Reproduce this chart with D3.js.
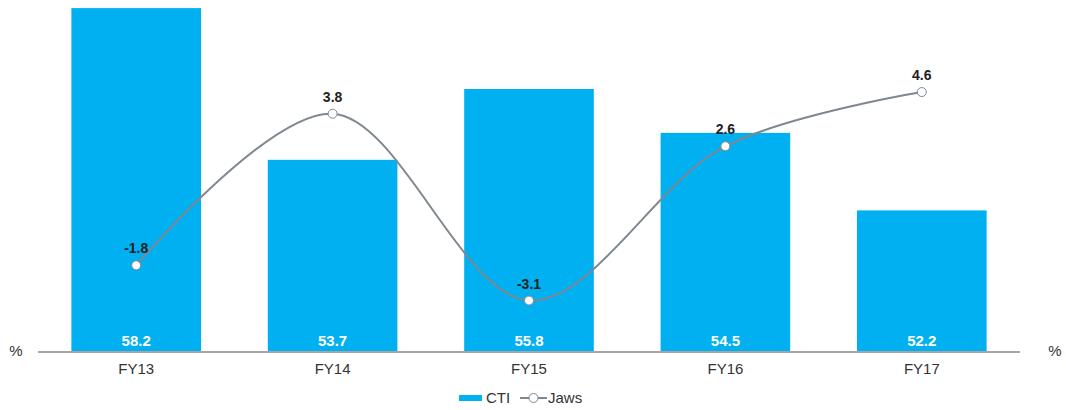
<!DOCTYPE html>
<html>
<head>
    <meta charset="utf-8">
    <style>
        body {
            margin: 0;
            background: #fff;
            font-family: Arial, 'Liberation Sans', sans-serif;
        }
        svg {
            display: block;
        }
        .cat-label {
            font-size: 15px;
            fill: #333;
        }
        .bar-label {
            font-size: 15px;
            font-weight: bold;
            fill: #fff;
        }
        .jaws-label {
            font-size: 14px;
            font-weight: bold;
            fill: #222;
        }
        .unit {
            font-size: 15px;
            fill: #333;
        }
        .legend text {
            font-size: 15px;
            fill: #333;
        }
    </style>
</head>
<body>
    <svg width="1066" height="410"></svg>

<script src="https://d3js.org/d3.v7.min.js"></script>
<script>
    // data
    let years = ["FY13", "FY14", "FY15", "FY16", "FY17"]
    let cti = [58.2, 53.7, 55.8, 54.5, 52.2]
    let jaws = [-1.8, 3.8, -3.1, 2.6, 4.6]

    let barColor = "#00b0f0"
    let lineColor = "#7f8790"

    let margin = { top: 0, left: 38, right: 46, baseline: 352 }
    let width = 1066

    let svg = d3.select("svg")

    let x = d3.scaleBand()
        .domain(years)
        .range([margin.left, width - margin.right])
        .paddingInner(0.34)
        .paddingOuter(0.17)

    // left axis for CTI (not starting at zero)
    let yLeft = d3.scaleLinear()
        .domain([48, 58.44])
        .range([margin.baseline, margin.top])

    // right axis for Jaws
    let yRight = d3.scaleLinear()
        .domain([-5, 8])
        .range([margin.baseline, margin.top])

    let rows = years.map((d, i) => ({ year: d, cti: cti[i], jaws: jaws[i] }))

    // bars
    svg.append("g")
        .selectAll("rect")
        .data(rows)
        .join("rect")
        .attr("x", d => x(d.year))
        .attr("width", x.bandwidth())
        .attr("y", d => yLeft(d.cti))
        .attr("height", d => yLeft.range()[0] - yLeft(d.cti))
        .attr("fill", barColor)

    // baseline / x axis
    let xAxis = svg.append("g")
        .attr("transform", `translate(0, ${margin.baseline})`)
        .call(d3.axisBottom(x).tickSize(0).tickPadding(11))
    xAxis.select(".domain")
        .attr("stroke", "#a6a6a6")
        .attr("stroke-width", 2)
        .attr("d", `M${margin.left},0H${width - margin.right}`)
    xAxis.selectAll(".tick text")
        .attr("class", "cat-label")
        .attr("font-family", null)
        .attr("font-size", null)
        .attr("fill", null)

    // bar values
    svg.append("g")
        .selectAll("text")
        .data(rows)
        .join("text")
        .attr("class", "bar-label")
        .attr("x", d => x(d.year) + x.bandwidth() / 2)
        .attr("y", margin.baseline - 6)
        .attr("text-anchor", "middle")
        .text(d => d.cti.toFixed(1))

    // jaws line
    let line = d3.line()
        .x(d => x(d.year) + x.bandwidth() / 2)
        .y(d => yRight(d.jaws))
        .curve(d3.curveCatmullRom.alpha(0.5))

    svg.append("path")
        .datum(rows)
        .attr("fill", "none")
        .attr("stroke", lineColor)
        .attr("stroke-width", 2)
        .attr("d", line)

    svg.append("g")
        .selectAll("circle")
        .data(rows)
        .join("circle")
        .attr("cx", d => x(d.year) + x.bandwidth() / 2)
        .attr("cy", d => yRight(d.jaws))
        .attr("r", 4.5)
        .attr("fill", "#fff")
        .attr("stroke", lineColor)
        .attr("stroke-width", 1)

    svg.append("g")
        .selectAll("text")
        .data(rows)
        .join("text")
        .attr("class", "jaws-label")
        .attr("x", d => x(d.year) + x.bandwidth() / 2)
        .attr("y", d => yRight(d.jaws) - 12)
        .attr("text-anchor", "middle")
        .text(d => d.jaws.toFixed(1))

    // unit labels
    svg.append("text")
        .attr("class", "unit")
        .attr("x", 16)
        .attr("y", margin.baseline + 4)
        .attr("text-anchor", "middle")
        .text("%")

    svg.append("text")
        .attr("class", "unit")
        .attr("x", 1055)
        .attr("y", margin.baseline + 4)
        .attr("text-anchor", "middle")
        .text("%")

    // legend
    let legend = svg.append("g")
        .attr("class", "legend")
        .attr("transform", "translate(459, 398)")

    legend.append("rect")
        .attr("x", 0)
        .attr("y", -3)
        .attr("width", 23)
        .attr("height", 6)
        .attr("fill", barColor)

    legend.append("text")
        .attr("x", 27)
        .attr("y", 5)
        .text("CTI")

    legend.append("line")
        .attr("x1", 61)
        .attr("x2", 88)
        .attr("y1", 0)
        .attr("y2", 0)
        .attr("stroke", lineColor)
        .attr("stroke-width", 2)

    legend.append("circle")
        .attr("cx", 74.5)
        .attr("cy", 0)
        .attr("r", 4.5)
        .attr("fill", "#fff")
        .attr("stroke", lineColor)

    legend.append("text")
        .attr("x", 89)
        .attr("y", 5)
        .text("Jaws")
</script>
</body>
</html>
